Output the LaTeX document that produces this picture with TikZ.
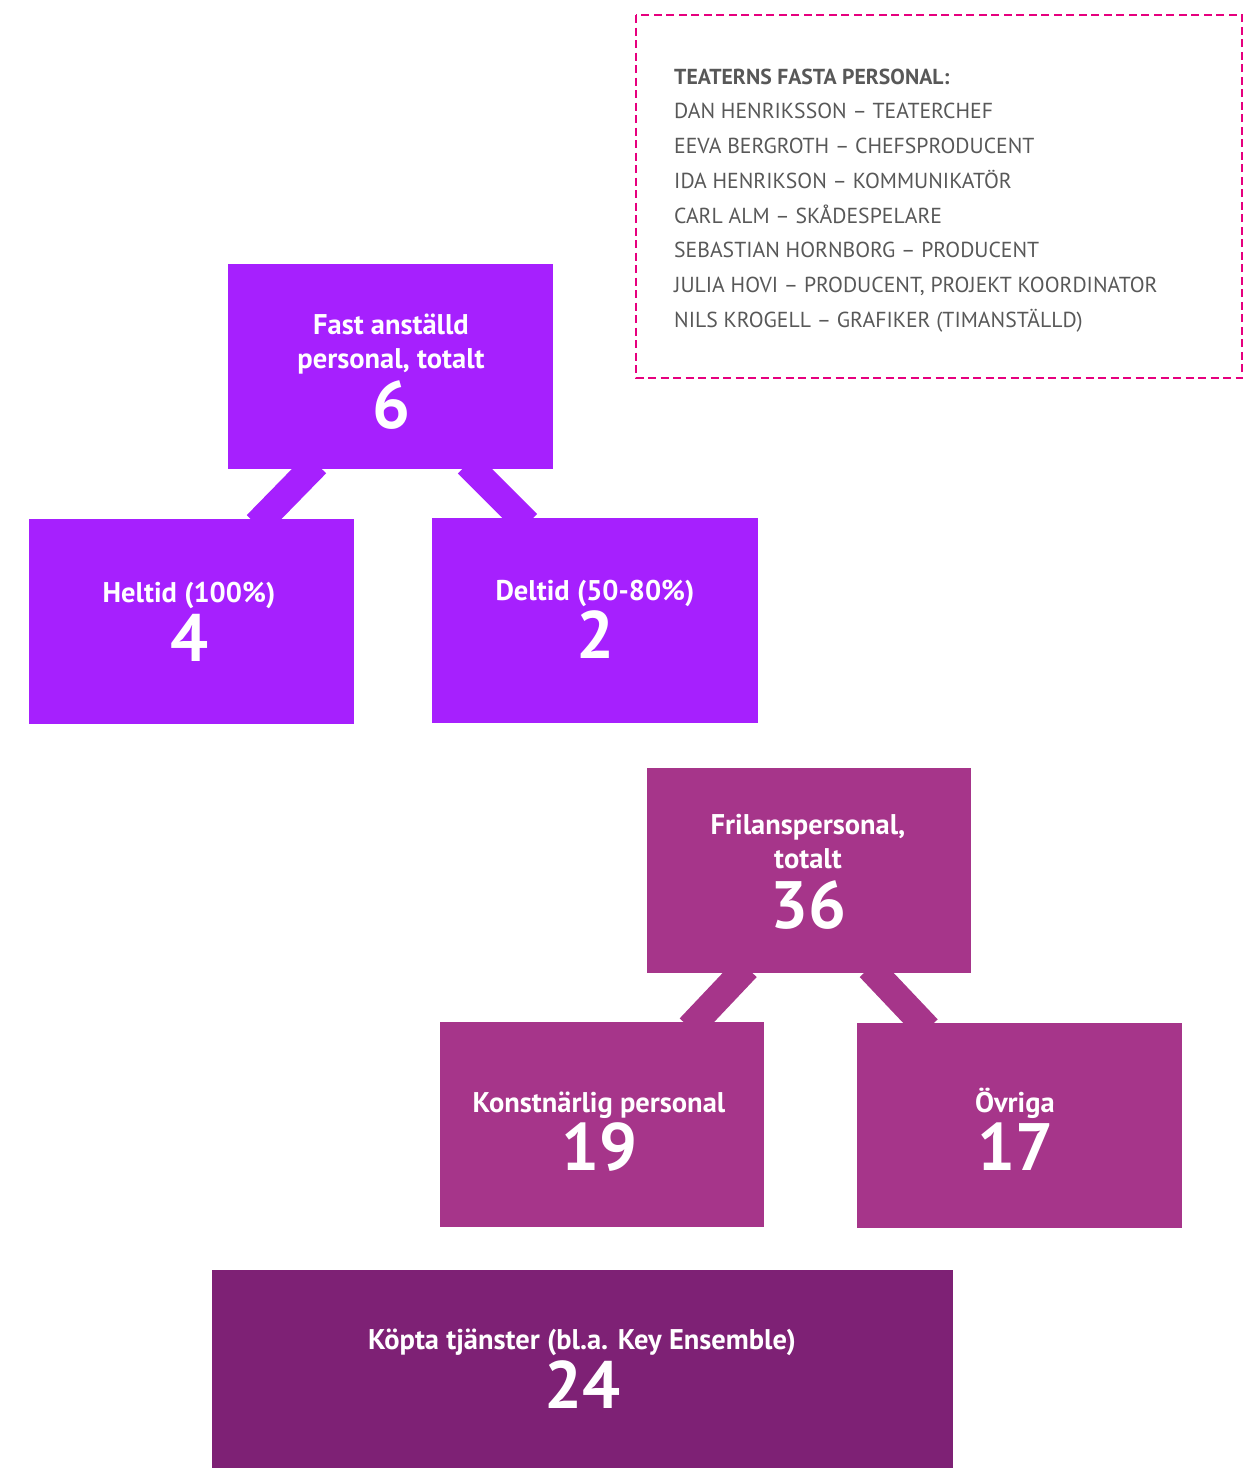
\documentclass[tikz,border=0pt]{standalone}
\usepackage{fontspec}
\setmainfont{PT Sans}
\usetikzlibrary{calc,backgrounds}
\definecolor{violet1}{HTML}{A620FE}
\definecolor{plum1}{HTML}{A6358A}
\definecolor{plum2}{HTML}{7E2175}
\definecolor{dashpink}{HTML}{E6007E}
\definecolor{txtgray}{HTML}{585858}
\tikzset{
  box/.style={rectangle, inner sep=0pt, minimum width=#1, minimum height=205pt, anchor=north west},
  lbl/.style={anchor=base, text=white, font=\fontsize{28.5}{32}\selectfont\bfseries, inner sep=0pt},
  num/.style={anchor=base, text=white, font=\fontsize{67}{72}\selectfont\bfseries, inner sep=0pt},
  lst/.style={anchor=base west, text=txtgray, font=\fontsize{21.7}{25}\selectfont, inner sep=0pt},
  conn/.style={line width=27.5pt, line cap=butt, shorten <=-8pt, shorten >=-8pt}
}
\begin{document}
\begin{tikzpicture}[x=1pt,y=-1pt]
\useasboundingbox (0,0) rectangle (1259,1468);
% staff list
\draw[dashpink, line width=2.5pt, dash pattern=on 8pt off 4.5pt] (636,15) rectangle (1242,378);
\node[lst, font=\fontsize{21.7}{25}\selectfont\bfseries] (l0) at (674,84) {TEATERNS FASTA PERSONAL:};
\node[lst] (l1) at (674,118.7) {DAN HENRIKSSON – TEATERCHEF};
\node[lst] (l2) at (674,153.5) {EEVA BERGROTH – CHEFSPRODUCENT};
\node[lst] (l3) at (674,188.3) {IDA HENRIKSON – KOMMUNIKATÖR};
\node[lst] (l4) at (674,223) {CARL ALM – SKÅDESPELARE};
\node[lst] (l5) at (674,257.8) {SEBASTIAN HORNBORG – PRODUCENT};
\node[lst] (l6) at (674,292.6) {JULIA HOVI – PRODUCENT, PROJEKT KOORDINATOR};
\node[lst] (l7) at (674,327.4) {NILS KROGELL – GRAFIKER (TIMANSTÄLLD)};
% boxes
\node[box=325pt, fill=violet1] (A) at (228,264) {};
\node[box=325pt, fill=violet1] (B) at (29,519) {};
\node[box=326pt, fill=violet1] (C) at (432,518) {};
\node[box=324pt, fill=plum1] (D) at (647,768) {};
\node[box=324pt, fill=plum1] (E) at (440,1022) {};
\node[box=325pt, fill=plum1] (F) at (857,1023) {};
\node[box=741pt, minimum height=200pt, fill=plum2] (G) at (212,1270) {};
% connectors
\begin{scope}[on background layer]
\draw[conn, violet1] ($(A.south)+(-80,0)$) -- ($(B.north)+(70.5,0)$);
\draw[conn, violet1] ($(A.south)+(82.5,0)$) -- ($(C.north)+(-73.5,0)$);
\draw[conn, plum1] ($(D.south)+(-68,0)$) -- ($(E.north)+(93,0)$);
\draw[conn, plum1] ($(D.south)+(66,0)$) -- ($(F.north)+(-97.5,0)$);
\end{scope}
% texts
\node[lbl] (A1) at (391,334) {Fast anställd};
\node[lbl] (A2) at (391,368) {personal, totalt};
\node[num] (A3) at (391,428) {6};
\node[lbl] (B1) at (189,602) {Heltid (100\%)};
\node[num] (B2) at (189,661) {4};
\node[lbl] (C1) at (595,600) {Deltid (50-80\%)};
\node[num] (C2) at (595,658) {2};
\node[lbl] (D1) at (808,834) {Frilanspersonal,};
\node[lbl] (D2) at (808,868) {totalt};
\node[num] (D3) at (808,928) {36};
\node[lbl] (E1) at (599,1112) {Konstnärlig personal};
\node[num] (E2) at (599,1170) {19};
\node[lbl] (F1) at (1015,1112) {Övriga};
\node[num] (F2) at (1015,1170) {17};
\node[lbl] (G1) at (582,1349) {Köpta tjänster (bl.a. Key Ensemble)};
\node[num] (G2) at (582,1408) {24};
\end{tikzpicture}
\end{document}
